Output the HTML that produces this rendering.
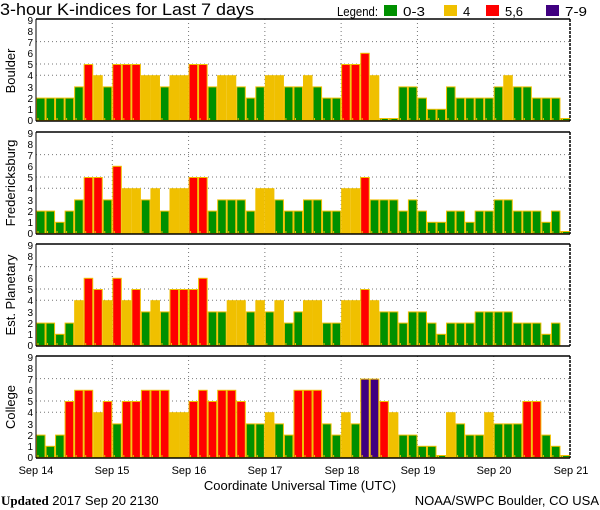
<!DOCTYPE html>
<html><head><meta charset="utf-8"><style>
body{margin:0;background:#fff;}
svg{display:block;font-family:"Liberation Sans",sans-serif;}
</style></head><body>
<svg id="s" width="600" height="510" viewBox="0 0 600 510" xmlns="http://www.w3.org/2000/svg">
<rect width="600" height="510" fill="#fff"/>
<text x="0" y="15" font-size="16.5" textLength="254" lengthAdjust="spacingAndGlyphs">3-hour K-indices for Last 7 days</text>
<text x="337" y="16" font-size="13" textLength="41" lengthAdjust="spacingAndGlyphs">Legend:</text>
<rect x="384" y="5" width="13" height="11" fill="#009000"/><text x="403" y="16" font-size="13" textLength="22" lengthAdjust="spacingAndGlyphs">0-3</text>
<rect x="444" y="5" width="13" height="11" fill="#f0c000"/><text x="463" y="16" font-size="13">4</text>
<rect x="486" y="5" width="13" height="11" fill="#ff0000"/><text x="505" y="16" font-size="13" textLength="18" lengthAdjust="spacingAndGlyphs">5,6</text>
<rect x="546" y="5" width="13" height="11" fill="#400080"/><text x="565" y="16" font-size="13" textLength="22" lengthAdjust="spacingAndGlyphs">7-9</text>
<g id="plots"></g>
<g font-size="13">
<text transform="translate(15,71) rotate(-90)" text-anchor="middle">Boulder</text>
<text transform="translate(15,183) rotate(-90)" text-anchor="middle">Fredericksburg</text>
<text transform="translate(15,295) rotate(-90)" text-anchor="middle">Est. Planetary</text>
<text transform="translate(15,407) rotate(-90)" text-anchor="middle">College</text>
</g>
<g font-size="11" text-anchor="middle">
<text x="36" y="474">Sep 14</text><text x="112" y="474">Sep 15</text><text x="189" y="474">Sep 16</text><text x="265" y="474">Sep 17</text><text x="342" y="474">Sep 18</text><text x="418" y="474">Sep 19</text><text x="494" y="474">Sep 20</text><text x="571" y="474">Sep 21</text>
</g>
<text x="300" y="490" font-size="13" text-anchor="middle">Coordinate Universal Time (UTC)</text>
<text x="1" y="505" font-size="13"><tspan font-family="Liberation Serif" font-weight="bold">Updated</tspan> 2017 Sep 20 2130</text>
<text x="599" y="505" font-size="13" text-anchor="end">NOAA/SWPC Boulder, CO USA</text>
</svg>
<script>
var data=[
[2,2,2,2,3,5,4,3, 5,5,5,4,4,3,4,4, 5,5,3,4,4,3,2,3, 4,4,3,3,4,3,2,2, 5,5,6,4,0,0,3,3, 2,1,1,3,2,2,2,2, 3,4,3,3,2,2,2,0],
[2,2,1,2,3,5,5,3, 6,4,4,3,4,2,4,4, 5,5,2,3,3,3,2,4, 4,3,2,2,3,3,2,2, 4,4,5,3,3,3,2,3, 2,1,1,2,2,1,2,2, 3,3,2,2,2,1,2,0],
[2,2,1,2,4,6,5,4, 6,4,5,3,4,3,5,5, 5,6,3,3,4,4,3,4, 3,4,2,3,4,4,2,2, 4,4,5,4,3,3,2,3, 3,2,1,2,2,2,3,3, 3,3,2,2,2,1,2,-1],
[2,1,2,5,6,6,4,5, 3,5,5,6,6,6,4,4, 5,6,5,6,6,5,3,3, 4,3,2,6,6,6,3,2, 4,3,7,7,5,4,2,2, 1,1,0,4,3,2,2,4, 3,3,3,5,5,2,1,0]];
var tops=[19,132,244,356],H=102,X0=36,X1=570,bw=(X1-X0)/56,u=11.2;
var ns="http://www.w3.org/2000/svg",g=document.getElementById('plots');
function el(t,a,p){var e=document.createElementNS(ns,t);for(var k in a)e.setAttribute(k,a[k]);(p||g).appendChild(e);return e;}
function col(v){return v<=3?'#009000':v==4?'#f0c000':v<=6?'#ff0000':'#400080';}
tops.forEach(function(T,p){
 var z=T+H-1;
 [4,5,7].forEach(function(v){el('line',{x1:X0,x2:X1,y1:z-v*u,y2:z-v*u,stroke:'#777','stroke-dasharray':'1,3'});});
 for(var d=1;d<7;d++){var x=X0+d*8*bw;el('line',{x1:x,x2:x,y1:T,y2:T+H,stroke:'#777','stroke-dasharray':'1,3'});}
 data[p].forEach(function(v,i){
  var x=X0+i*bw;
  if(v<0)return;
  var h=Math.max(v*u,2);
  el('rect',{x:x+0.5,y:z-h+0.5,width:bw-1,height:h,fill:col(v),stroke:'#f0c000','stroke-width':1});
  el('rect',{x:x+1.5,y:z-2,width:1,height:2,fill:'#f0c000'});
 });
 el('line',{x1:X0,x2:X1,y1:T,y2:T,stroke:'#000','stroke-width':1.5});
 el('line',{x1:X0,x2:X1,y1:T+H,y2:T+H,stroke:'#000','stroke-width':1.5});
 el('line',{x1:X0,x2:X0,y1:T,y2:T+H,stroke:'#000','stroke-width':1});
 el('line',{x1:X1,x2:X1,y1:T,y2:T+H,stroke:'#000','stroke-width':1.5,'stroke-dasharray':'3,1'});
});
</script>
<div style="position:absolute;left:0;top:0;width:600px;height:510px;pointer-events:none">
<svg width="600" height="510" style="font-family:'Liberation Sans',sans-serif" font-size="10" text-anchor="end">
<g transform="translate(0,0)"><text x="33" y="124">0</text><text x="33" y="113">1</text><text x="33" y="102">2</text><text x="33" y="91">3</text><text x="33" y="79">4</text><text x="33" y="68">5</text><text x="33" y="57">6</text><text x="33" y="46">7</text><text x="33" y="35">8</text><text x="33" y="24">9</text></g>
<g transform="translate(0,113)"><text x="33" y="124">0</text><text x="33" y="113">1</text><text x="33" y="102">2</text><text x="33" y="91">3</text><text x="33" y="79">4</text><text x="33" y="68">5</text><text x="33" y="57">6</text><text x="33" y="46">7</text><text x="33" y="35">8</text><text x="33" y="24">9</text></g>
<g transform="translate(0,225)"><text x="33" y="124">0</text><text x="33" y="113">1</text><text x="33" y="102">2</text><text x="33" y="91">3</text><text x="33" y="79">4</text><text x="33" y="68">5</text><text x="33" y="57">6</text><text x="33" y="46">7</text><text x="33" y="35">8</text><text x="33" y="24">9</text></g>
<g transform="translate(0,337)"><text x="33" y="124">0</text><text x="33" y="113">1</text><text x="33" y="102">2</text><text x="33" y="91">3</text><text x="33" y="79">4</text><text x="33" y="68">5</text><text x="33" y="57">6</text><text x="33" y="46">7</text><text x="33" y="35">8</text><text x="33" y="24">9</text></g>
</svg></div>
</body></html>
